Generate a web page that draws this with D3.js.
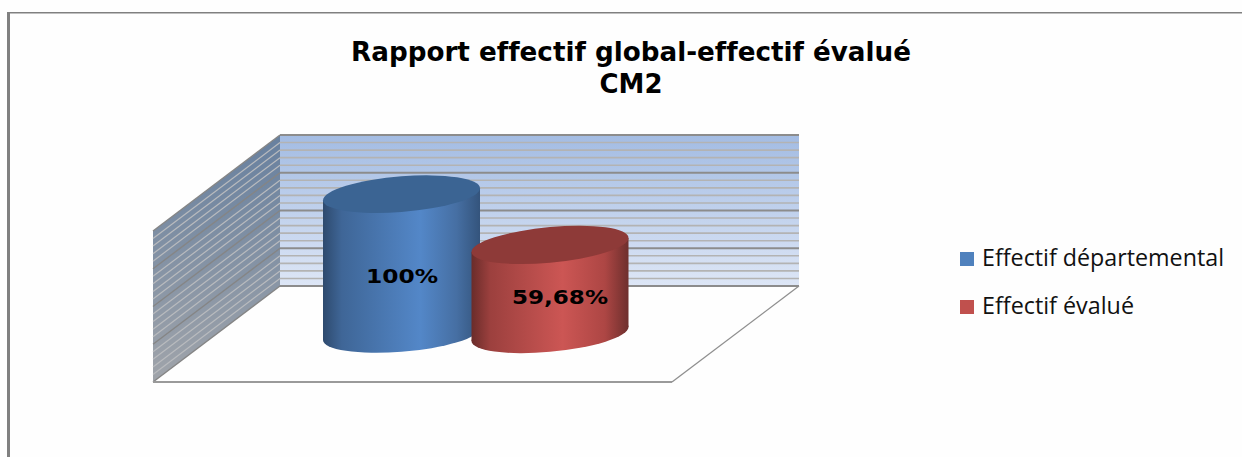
<!DOCTYPE html>
<html>
<head>
<meta charset="utf-8">
<script src="https://cdn.jsdelivr.net/npm/d3@7"></script>
<style>
  html, body { margin: 0; padding: 0; background: #fefefe; }
  svg { display: block; }
  text { font-variant-ligatures: none; }
</style>
</head>
<body>
<div class="chart"></div>
<script>
const titleLines = ["Rapport effectif global-effectif évalué", "CM2"];
const categories = ["Effectif départemental", "Effectif évalué"];
const values = [100, 59.68];
const labels = ["100%", "59,68%"];
const gridValues = [0, 6, 12, 18, 24, 30, 36, 42, 48, 54, 60, 66, 72, 78, 84, 90, 96, 102, 108, 114, 120];
const majorValues = [0, 30, 60, 90, 120];

const width = 1242, height = 457;

const svg = d3.select(".chart").append("svg")
    .attr("width", width)
    .attr("height", height);

const defs = svg.append("defs");

function gradient(id, x2, y2, stops) {
  const g = defs.append("linearGradient").attr("id", id)
      .attr("x1", 0).attr("y1", 0).attr("x2", x2).attr("y2", y2);
  stops.forEach(s => g.append("stop").attr("offset", s[0]).attr("stop-color", s[1]));
}
gradient("backWall", 0, 1, [[0, "#a3bce3"], [1, "#dde6f6"]]);
gradient("sideWall", 0, 1, [[0, "#67809f"], [1, "#a0a4aa"]]);
gradient("bar0", 1, 0, [[0, "#2e4a6e"], [0.12, "#3f6697"], [0.62, "#5387c8"], [0.85, "#466fa3"], [1, "#34547c"]]);
gradient("bar1", 1, 0, [[0, "#6a2c2a"], [0.12, "#9c403e"], [0.58, "#cc5654"], [0.85, "#ad4644"], [1, "#6e2f2d"]]);

const color = d3.scaleOrdinal().domain(categories).range(["#4f81bd", "#c0504d"]);
const topColor = d3.scaleOrdinal().domain(categories).range(["#3b6493", "#8e3a38"]);

// frame round the picture (only top and left survive)
svg.append("rect").attr("x", 7).attr("y", 12).attr("width", width - 7).attr("height", 1.5).attr("fill", "#808080");
svg.append("rect").attr("x", 7).attr("y", 12).attr("width", 3).attr("height", height - 12).attr("fill", "#808080");

// 3d box
const y = d3.scaleLinear().domain([0, 120]).range([286, 135]);
const wallLeft = 280, wallRight = 799, depthX = 127, depthY = 96;

svg.append("rect")
    .attr("x", wallLeft).attr("y", y(120))
    .attr("width", wallRight - wallLeft).attr("height", y(0) - y(120))
    .attr("fill", "url(#backWall)");

svg.append("path")
    .attr("d", d3.line()([
      [wallLeft, y(120)], [wallLeft, y(0)],
      [wallLeft - depthX, y(0) + depthY], [wallLeft - depthX, y(120) + depthY]
    ]) + "Z")
    .attr("fill", "url(#sideWall)");

const isMajor = v => majorValues.includes(v);

svg.append("g").selectAll("line")
    .data(gridValues)
    .enter().append("line")
    .attr("x1", wallLeft).attr("x2", wallRight)
    .attr("y1", d => y(d)).attr("y2", d => y(d))
    .attr("stroke", d => isMajor(d) ? "#8c8c8c" : "#b3b3b3")
    .attr("stroke-width", d => isMajor(d) ? 2 : 1.6);

svg.append("g").selectAll("line")
    .data(gridValues)
    .enter().append("line")
    .attr("x1", wallLeft).attr("x2", wallLeft - depthX)
    .attr("y1", d => y(d)).attr("y2", d => y(d) + depthY)
    .attr("stroke", d => isMajor(d) ? "#858585" : "#b9bbbe")
    .attr("stroke-width", d => isMajor(d) ? 1.4 : 1.2);

// floor edges
svg.append("line")
    .attr("x1", wallLeft - depthX).attr("x2", wallRight - depthX)
    .attr("y1", y(0) + depthY).attr("y2", y(0) + depthY)
    .attr("stroke", "#9a9a9a").attr("stroke-width", 2.2);
svg.append("line")
    .attr("x1", wallRight).attr("x2", wallRight - depthX)
    .attr("y1", y(0)).attr("y2", y(0) + depthY)
    .attr("stroke", "#8f8f8f").attr("stroke-width", 1.3);

// cylinders
const x = d3.scalePoint().domain(categories).range([401.5, 550]);
const rx = 78.5, ry = 17.8;
const frontShift = 34; // the cylinders stand in front of the back wall
const baseExtra = 14;  // and keep this much height below their zero
const skew = [-4.4, -5.1];

const bars = svg.selectAll(".bar")
    .data(categories)
    .enter().append("g")
    .attr("class", "bar")
    .attr("transform", (d, i) => "translate(" + x(d) + "," + (y(values[i]) + frontShift) + ")");

const heightOf = d => y(0) - y(values[categories.indexOf(d)]) + baseExtra;

const inner = bars.append("g")
    .attr("transform", d => "skewY(" + skew[categories.indexOf(d)] + ")");
inner.append("rect")
    .attr("x", -rx).attr("y", 0)
    .attr("width", rx * 2)
    .attr("height", heightOf)
    .attr("fill", (d, i) => "url(#bar" + i + ")");
inner.append("ellipse")
    .attr("cx", 0).attr("cy", heightOf)
    .attr("rx", rx).attr("ry", ry)
    .attr("fill", (d, i) => "url(#bar" + i + ")");
inner.append("ellipse")
    .attr("cx", 0).attr("cy", 0)
    .attr("rx", rx).attr("ry", ry)
    .attr("fill", d => topColor(d));

// value labels
const labelDx = [0.5, 10];
const labelBase = [283, 304];
const labelLength = [72, 96];
svg.selectAll(".value")
    .data(labels)
    .enter().append("text")
    .attr("class", "value")
    .attr("x", (d, i) => x(categories[i]) + labelDx[i])
    .attr("y", (d, i) => labelBase[i])
    .attr("text-anchor", "middle")
    .attr("font-family", "'DejaVu Sans', sans-serif")
    .attr("font-weight", "bold")
    .attr("font-size", 20)
    .attr("textLength", (d, i) => labelLength[i])
    .attr("lengthAdjust", "spacingAndGlyphs")
    .attr("fill", "#000")
    .text(d => d);

// title
const titleLength = [560, 63];
svg.selectAll(".title")
    .data(titleLines)
    .enter().append("text")
    .attr("class", "title")
    .attr("x", 631)
    .attr("y", (d, i) => 61 + i * 32)
    .attr("text-anchor", "middle")
    .attr("font-family", "'DejaVu Sans', sans-serif")
    .attr("font-weight", "bold")
    .attr("font-size", 26)
    .attr("textLength", (d, i) => titleLength[i])
    .attr("lengthAdjust", "spacingAndGlyphs")
    .attr("fill", "#000")
    .text(d => d);

// legend
const legendLength = [242, 152];
const legend = svg.selectAll(".legend")
    .data(categories)
    .enter().append("g")
    .attr("class", "legend")
    .attr("transform", (d, i) => "translate(960," + (252 + i * 48) + ")");
legend.append("rect")
    .attr("width", 14).attr("height", 14)
    .attr("fill", d => color(d));
legend.append("text")
    .attr("x", 22).attr("y", 14)
    .attr("font-family", "'Open Sans', sans-serif")
    .attr("font-size", 23)
    .attr("textLength", (d, i) => legendLength[i])
    .attr("lengthAdjust", "spacingAndGlyphs")
    .attr("fill", "#111")
    .text(d => d);
</script>
</body>
</html>
